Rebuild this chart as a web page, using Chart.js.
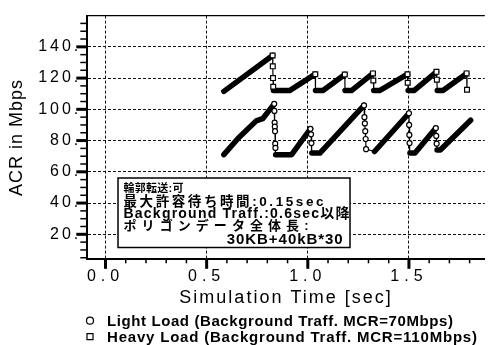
<!DOCTYPE html>
<html>
<head>
<meta charset="utf-8">
<script src="https://cdn.jsdelivr.net/npm/chart.js@4.4.0/dist/chart.umd.min.js"></script>
<style>
  html, body { margin: 0; padding: 0; background: #fff; }
  #chart { display: block; }
</style>
</head>
<body>
<canvas id="chart" width="490" height="345"></canvas>
<script>
// Heavy load run (squares)
const heavyTime = [0.585, 0.826, 0.827, 0.828, 0.829, 0.83, 0.91, 1.037, 1.038, 1.075, 1.183, 1.184, 1.216,
    1.322, 1.324, 1.326, 1.355, 1.493, 1.494, 1.496, 1.525, 1.636, 1.638, 1.64, 1.668, 1.785, 1.787];
const heavyRate = [111.5, 134.5, 127.5, 120, 114.5, 112, 112, 122.5, 112, 112, 122.3, 112, 112,
    123, 118.5, 112, 112, 122.5, 117, 112, 112, 124, 119, 112, 112, 123, 112.5];

// Light load run (circles)
const lightTime = [0.585, 0.656, 0.745, 0.777, 0.834, 0.835, 0.836, 0.837, 0.838, 0.839, 0.84, 0.841, 0.92,
    1.013, 1.016, 1.018, 1.02, 1.06, 1.278, 1.28, 1.282, 1.284, 1.286, 1.288, 1.33,
    1.5, 1.501, 1.502, 1.503, 1.505, 1.53, 1.633, 1.635, 1.637, 1.639, 1.655, 1.805];
const lightRate = [71, 81.5, 92.6, 94, 103.5, 99, 91.5, 88.9, 86, 78, 75.3, 71, 71,
    87.5, 84, 78.4, 72, 72, 102.5, 95, 91, 86, 81, 74.5, 73,
    97.5, 90, 83.6, 78.4, 72, 72, 88, 83, 78, 74, 74, 93];

const seriesLabels = [
    "Light Load (Background Traff. MCR=70Mbps)",
    "Heavy Load (Background Traff. MCR=110Mbps)"
];

const noteLines = [
    "輪郭転送:可",
    "最大許容待ち時間:0.15sec",
    "Background Traff.:0.6sec以降",
    "ポリゴンデータ全体長:",
    "30KB+40kB*30"
];

const xTicks = [0, 0.1, 0.2, 0.3, 0.4, 0.5, 0.6, 0.7, 0.8, 0.9, 1, 1.1, 1.2, 1.3, 1.4, 1.5, 1.6, 1.7, 1.8];
const xLabelled = [0, 0.5, 1, 1.5];
const yTicks = [5, 10, 15, 20, 25, 30, 35, 40, 45, 50, 55, 60, 65, 70, 75, 80, 85, 90, 95, 100,
    105, 110, 115, 120, 125, 130, 135, 140, 145, 150, 155];
const yLabelled = [20, 40, 60, 80, 100, 120, 140];

const FONT = '"Liberation Sans", Arial, "Noto Sans CJK JP", sans-serif';
Chart.defaults.font.family = FONT;
Chart.defaults.color = '#000';

const THICK = 5.5;
const THIN = 1.2;

function points(xs, ys) {
    return xs.map((x, i) => ({x: x, y: ys[i]}));
}

// markers sit on the falling edges of each sawtooth (bottoms are hidden
// under the thick trace, except where the run ends on a drop)
function onDrop(ctx) {
    const d = ctx.dataset.data;
    const i = ctx.dataIndex;
    const prev = d[i - 1];
    const next = d[i + 1];
    if (next === undefined) return prev !== undefined && prev.y > d[i].y;
    return next.y < d[i].y;
}

function series(label, data, style, radius) {
    return {
        label: label,
        data: data,
        borderColor: '#000',
        borderWidth: THICK,
        borderCapStyle: 'round',
        borderJoinStyle: 'round',
        pointStyle: style,
        pointRadius: ctx => onDrop(ctx) ? radius : 0,
        pointBackgroundColor: '#fff',
        pointBorderColor: '#000',
        pointBorderWidth: 1.2,
        tension: 0,
        segment: {
            borderWidth: s => s.p1.parsed.y < s.p0.parsed.y ? THIN : THICK
        }
    };
}

// stretch text out to a given width, the old plotter spread its letters
function fitText(ctx, text, x, y, width) {
    ctx.letterSpacing = '0px';
    const w = ctx.measureText(text).width;
    const n = [...text].length;
    const ls = n > 1 ? (width - w) / (n - 1) : 0;
    ctx.letterSpacing = ls + 'px';
    ctx.fillText(text, x, y);
    ctx.letterSpacing = '0px';
}

function spaced(scale, method, px) {
    const orig = scale[method];
    scale[method] = function (...args) {
        this.ctx.save();
        this.ctx.letterSpacing = px + 'px';
        orig.apply(this, args);
        this.ctx.restore();
    };
}

const decorations = {
    id: 'decorations',
    beforeDraw(chart) {
        if (chart._spaced) return;
        chart._spaced = true;
        spaced(chart.scales.x, 'drawLabels', 5);
        spaced(chart.scales.x, 'drawTitle', 2);
        spaced(chart.scales.y, 'drawLabels', 3);
        spaced(chart.scales.y, 'drawTitle', 1);
    },
    afterDraw(chart) {
        const ctx = chart.ctx;
        const area = chart.chartArea;
        const xs = chart.scales.x;
        const ys = chart.scales.y;
        ctx.save();
        ctx.strokeStyle = '#000';

        // frame top
        ctx.lineWidth = 1.2;
        ctx.beginPath();
        ctx.moveTo(area.left, area.top);
        ctx.lineTo(area.right, area.top);
        ctx.stroke();

        // tick marks
        yTicks.forEach(v => {
            const major = yLabelled.includes(v);
            const py = ys.getPixelForValue(v);
            ctx.lineWidth = major ? 3 : 1.5;
            ctx.beginPath();
            ctx.moveTo(area.left - (major ? 11 : 7), py);
            ctx.lineTo(area.left, py);
            ctx.stroke();
        });
        xTicks.forEach(v => {
            const major = xLabelled.includes(v);
            const px = xs.getPixelForValue(v);
            ctx.lineWidth = major ? 3 : 1.5;
            ctx.beginPath();
            ctx.moveTo(px, area.bottom);
            ctx.lineTo(px, area.bottom + (major ? 9.5 : 4));
            ctx.stroke();
        });

        // note box
        const box = {left: 118, top: 178, right: 350, bottom: 247.5};
        ctx.fillStyle = '#fff';
        ctx.fillRect(box.left, box.top, box.right - box.left, box.bottom - box.top);
        ctx.lineWidth = 1.5;
        ctx.strokeRect(box.left, box.top, box.right - box.left, box.bottom - box.top);
        ctx.fillStyle = '#000';
        ctx.textBaseline = 'alphabetic';
        ctx.textAlign = 'left';
        const tx = box.left + 5.5;
        ctx.font = 'bold 11px ' + FONT;
        fitText(ctx, noteLines[0], tx, 191.5, 60);
        ctx.font = 'bold 13.5px ' + FONT;
        fitText(ctx, noteLines[1], tx, 205.7, 200);
        ctx.font = 'bold 14px ' + FONT;
        fitText(ctx, noteLines[2], tx, 218.3, 226);
        ctx.font = 'bold 13px ' + FONT;
        fitText(ctx, noteLines[3], tx, 230.2, 185);
        ctx.font = 'bold 15px ' + FONT;
        fitText(ctx, noteLines[4], 226.7, 244, 116);

        // legend
        const rows = [{y: 320.7, base: 326}, {y: 336.7, base: 342.3}];
        const widths = [346, 370];
        ctx.font = 'bold 15px ' + FONT;
        ctx.lineWidth = 1.2;
        chart.data.datasets.forEach((ds, i) => {
            const r = rows[i];
            ctx.beginPath();
            if (ds.pointStyle === 'circle') {
                ctx.arc(90, r.y, 3.5, 0, Math.PI * 2);
            } else {
                ctx.rect(87, r.y - 3, 6, 6);
            }
            ctx.stroke();
            fitText(ctx, ds.label, 107, r.base, widths[i]);
        });
        ctx.restore();
    }
};

function gridColor(labelled) {
    return c => (c.tick && labelled.includes(c.tick.value)) ? '#111' : 'rgba(0,0,0,0)';
}

new Chart(document.getElementById('chart'), {
    type: 'line',
    data: {
        datasets: [
            series(seriesLabels[0], points(lightTime, lightRate), 'circle', 2.5),
            series(seriesLabels[1], points(heavyTime, heavyRate), 'rect', 3.4)
        ]
    },
    options: {
        responsive: false,
        animation: false,
        layout: {padding: {top: 9.3, right: 0, bottom: 35.7, left: 0}},
        plugins: {
            legend: {display: false},
            tooltip: {enabled: false}
        },
        scales: {
            x: {
                type: 'linear',
                min: -0.09,
                max: 1.875,
                afterBuildTicks: s => { s.ticks = xTicks.map(v => ({value: v})); },
                afterFit: s => { s.height = 50; },
                grid: {color: gridColor(xLabelled), lineWidth: 1, drawTicks: false},
                border: {display: true, color: '#000', width: 2, dash: [3, 2]},
                ticks: {
                    autoSkip: false,
                    maxRotation: 0,
                    padding: 8,
                    font: {size: 16},
                    callback: v => xLabelled.includes(v) ? v.toFixed(1) : ''
                },
                title: {
                    display: true,
                    text: 'Simulation Time [sec]',
                    font: {size: 18},
                    padding: {top: 0, bottom: 0}
                }
            },
            y: {
                type: 'linear',
                min: 4,
                max: 160,
                afterBuildTicks: s => { s.ticks = yTicks.map(v => ({value: v})); },
                afterFit: s => { s.width = 87.3; },
                grid: {color: gridColor(yLabelled), lineWidth: 1, drawTicks: false},
                border: {display: true, color: '#000', width: 2, dash: [3, 2]},
                ticks: {
                    autoSkip: false,
                    padding: 6,
                    font: {size: 16},
                    callback: v => yLabelled.includes(v) ? v + '.' : ''
                },
                title: {
                    display: true,
                    text: 'ACR in Mbps',
                    font: {size: 18},
                    padding: {top: 6, bottom: 0}
                }
            }
        }
    },
    plugins: [decorations]
});
</script>
</body>
</html>
